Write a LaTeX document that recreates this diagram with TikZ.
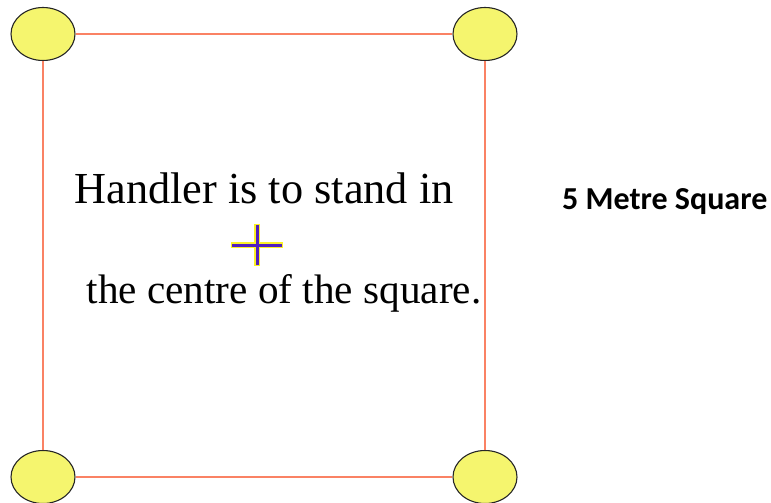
\documentclass[tikz,border=0pt]{standalone}
\usepackage{fontspec}
\setmainfont{Liberation Serif}
\newfontfamily\headfont{Carlito}
\usetikzlibrary{shapes.geometric}
\definecolor{cornerfill}{RGB}{245,245,110}
\definecolor{edgeline}{RGB}{250,130,100}
\definecolor{crossline}{RGB}{80,30,190}
\definecolor{crossglow}{RGB}{250,240,40}

\begin{document}
\begin{tikzpicture}[x=1pt, y=-1pt,
  corner/.style={ellipse, draw=black!85, line width=1.1pt, fill=cornerfill, minimum width=64pt, minimum height=53pt, inner sep=0pt},
  edge/.style={draw=edgeline, line width=1.8pt},
  note/.style={inner sep=0pt, anchor=base}
]
\useasboundingbox (0,0) rectangle (771,503);

% Corner markers
\node[corner] (tl) at (43, 34) {};
\node[corner] (tr) at (485, 34) {};
\node[corner] (bl) at (43, 477) {};
\node[corner] (br) at (485, 477) {};

% Sides of the square
\draw[edge] (tl.east) -- (tr.west);
\draw[edge] (tr.south) -- (br.north);
\draw[edge] (br.west) -- (bl.east);
\draw[edge] (bl.north) -- (tl.south);

% Instructions
\node[note, font=\fontsize{44.3}{48}\selectfont] (line1) at (264, 203) {Handler is to stand in};
\node[note, font=\fontsize{41.2}{48}\selectfont] (line2) at (284, 303) {the centre of the square.};

% Handler position
\coordinate (mid) at (257, 245);
\draw[crossglow, line width=6pt] ([xshift=-26pt]mid) -- ([xshift=26pt]mid) ([yshift=-21pt]mid) -- ([yshift=21pt]mid);
\draw[crossline, line width=3pt] ([xshift=-25pt]mid) -- ([xshift=25pt]mid) ([yshift=-20pt]mid) -- ([yshift=20pt]mid);

% Side label
\node[font=\headfont\bfseries\fontsize{32}{38}\selectfont, anchor=base west, inner sep=0pt] (size) at (562, 209) {5 Metre Square};
\end{tikzpicture}
\end{document}
